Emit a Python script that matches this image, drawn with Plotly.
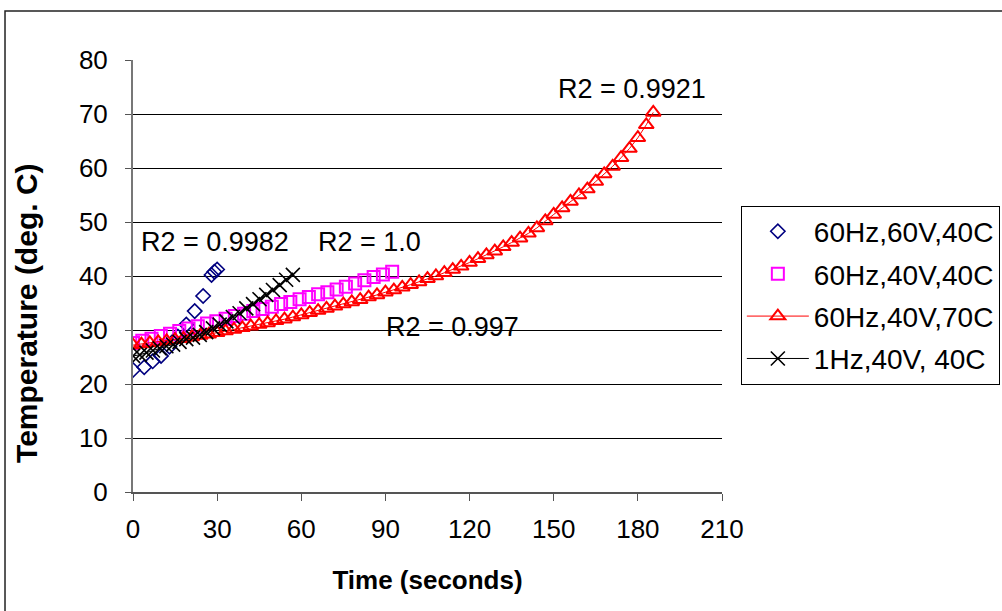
import plotly.graph_objects as go

# ---- data ----
t_60v = [0, 4, 7, 10, 13, 16, 19, 22, 25, 28, 29, 30]
T_60v = [22.6, 23.1, 24.2, 25.2, 26.9, 28.8, 31.0, 33.5, 36.3, 40.2, 40.8, 41.2]

t_40v40 = [0, 3.3, 6.6, 9.9, 13.2, 16.5, 19.8, 23.1, 26.4, 29.7, 33.0, 36.3, 39.6, 42.9,
           46.2, 49.5, 52.8, 56.1, 59.4, 62.7, 66.0, 69.3, 72.6, 75.9, 79.2, 82.5, 85.8,
           89.1, 92.4]
T_40v40 = [27.6, 28.0, 28.4, 28.9, 29.3, 29.8, 30.3, 30.7, 31.2, 31.6, 32.1, 32.6, 33.0,
           33.5, 33.9, 34.3, 34.8, 35.2, 35.7, 36.1, 36.6, 37.0, 37.5, 38.0, 38.6, 39.2,
           39.8, 40.3, 40.8]

t_40v70 = [0, 3, 6, 9, 12, 15, 18, 21, 24, 27, 30, 33, 36, 39, 42, 45, 48, 51, 54, 57,
           60, 63, 66, 69, 72, 75, 78, 81, 84, 87, 90, 93, 96, 99, 102, 105, 108, 111,
           114, 117, 120, 123, 126, 129, 132, 135, 138, 141, 144, 147, 150, 153, 156,
           159, 162, 165, 168, 171, 174, 177, 180, 183, 185.5]
T_40v70 = [27.2, 27.4, 27.6, 27.8, 28.0, 28.2, 28.4, 28.7, 29.0, 29.2, 29.5, 29.8, 30.1,
           30.4, 30.7, 31.0, 31.3, 31.7, 32.0, 32.4, 32.8, 33.2, 33.6, 34.0, 34.4, 34.8,
           35.2, 35.6, 36.1, 36.5, 37.0, 37.4, 37.9, 38.4, 38.9, 39.5, 40.0, 40.6, 41.2,
           41.8, 42.5, 43.2, 43.9, 44.6, 45.4, 46.2, 47.0, 47.9, 48.9, 50.2, 51.4, 52.6,
           53.8, 55.0, 56.1, 57.5, 58.9, 60.3, 61.9, 63.6, 65.6, 68.0, 70.3]

t_1hz = [0, 2.4, 4.8, 7.1, 9.5, 11.9, 14.3, 16.6, 19.0, 21.4, 23.8, 26.1, 28.5, 30.9,
         33.3, 35.6, 38.0, 40.4, 42.8, 45.1, 47.5, 49.9, 52.3, 54.6, 57.0]
T_1hz = [25.2, 25.4, 25.8, 26.2, 26.6, 27.0, 27.3, 27.8, 28.3, 28.6, 29.1, 29.6, 30.3,
         31.0, 31.6, 32.4, 33.1, 34.0, 34.8, 35.7, 36.5, 37.4, 38.3, 39.3, 40.2]

names = ["60Hz,60V,40C", "60Hz,40V,40C", "60Hz,40V,70C", "1Hz,40V, 40C"]
r2_labels = ["R2 = 0.9982", "R2 = 1.0", "R2 = 0.997", "R2 = 0.9921"]
x_ticks = [0, 30, 60, 90, 120, 150, 180, 210]
y_ticks = [0, 10, 20, 30, 40, 50, 60, 70, 80]

FONT = "Liberation Sans, Arial, sans-serif"

fig = go.Figure()
fig.add_trace(go.Scatter(
    x=t_60v, y=T_60v, name=names[0], mode="markers", legendgroup="a",
    marker=dict(symbol="diamond-open", size=11, color="#000080", line=dict(width=1.6, color="#000080"))))
fig.add_trace(go.Scatter(
    x=t_40v40, y=T_40v40, name=names[1], mode="markers", legendgroup="b",
    marker=dict(symbol="square-open", size=12, color="#FF00FF", line=dict(width=2, color="#FF00FF"))))
fig.add_trace(go.Scatter(
    x=t_40v70, y=T_40v70, name=names[2], mode="lines+markers", legendgroup="c",
    line=dict(color="#FF0000", width=1),
    marker=dict(symbol="triangle-up-open", size=13, color="#FF0000", line=dict(width=2, color="#FF0000"))))
fig.add_trace(go.Scatter(
    x=t_1hz, y=T_1hz, name=names[3], mode="lines+markers", legendgroup="d",
    line=dict(color="#000000", width=1),
    marker=dict(symbol="x-thin-open", size=14, color="#000000", line=dict(width=1.6, color="#000000"))))

ann_pos = [(29.3, 46.3), (84.3, 46.3), (114, 30.6), (178, 74.6)]
for (ax, ay), txt in zip(ann_pos, r2_labels):
    fig.add_annotation(x=ax, y=ay, xref="x", yref="y", text=txt, showarrow=False,
                       font=dict(family=FONT, size=27, color="black"))

# y-axis title (placed lower than the plot centre, as in the reference)
fig.add_annotation(x=-0.182, y=0.414, xref="paper", yref="paper", xanchor="center", yanchor="middle",
                   text="<b>Temperature (deg. C)</b>", textangle=-90, showarrow=False,
                   font=dict(family=FONT, size=30, color="black"))

# outer chart frame
fig.add_shape(type="rect", xref="paper", yref="paper",
              x0=-0.2173, y0=-0.30, x1=1.49, y1=1.1134,
              line=dict(color="#222222", width=1.5), layer="below")

fig.update_layout(
    width=1002, height=611,
    margin=dict(l=133, r=280, t=60, b=119, autoexpand=False),
    paper_bgcolor="white", plot_bgcolor="white",
    font=dict(family=FONT, size=26, color="black"),
    showlegend=True,
    legend=dict(
        x=1.032, y=0.663, xanchor="left", yanchor="top",
        bordercolor="#000000", borderwidth=1, bgcolor="white",
        font=dict(family=FONT, size=28, color="black"),
        traceorder="grouped", tracegroupgap=3, itemwidth=62,
    ),
    xaxis=dict(
        range=[0, 210], tickvals=x_ticks, ticktext=[str(v) for v in x_ticks],
        showgrid=False, zeroline=False, showline=True, linecolor="#555555", linewidth=2,
        ticks="outside", ticklen=7, tickcolor="#555555", tickwidth=1,
        ticklabelstandoff=6,
        tickfont=dict(family=FONT, size=26),
        title=dict(text="<b>Time (seconds)</b>", font=dict(family=FONT, size=26), standoff=28),
    ),
    yaxis=dict(
        range=[0, 80], tickvals=y_ticks, ticktext=[str(v) for v in y_ticks],
        showgrid=True, gridcolor="#000000", gridwidth=1,
        zeroline=False, showline=True, linecolor="#777777", linewidth=2,
        ticks="outside", ticklen=6, tickcolor="#555555", tickwidth=1,
        ticklabelstandoff=12,
        tickfont=dict(family=FONT, size=26),
    ),
)

fig.write_html("out.html")
